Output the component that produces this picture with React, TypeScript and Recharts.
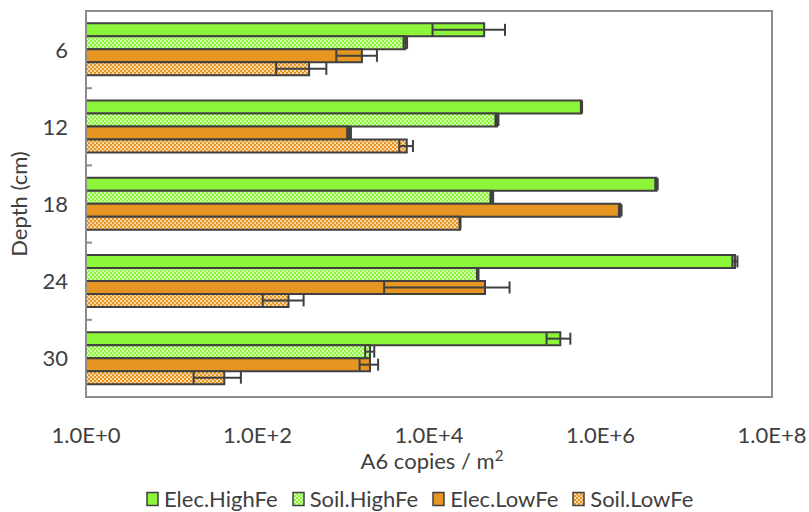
import React from 'react';
import { BarChart, Bar, XAxis, YAxis, ErrorBar, ReferenceArea } from 'recharts';

// depth categories (cm) and gene copy numbers per series
const depths = ['6', '12', '18', '24', '30'];
const elecHigh = [4.4e4, 6.0e5, 4.5e6, 3.7e7, 3.4e5];
const elecHighErr = [3.3e4, 1.0e4, 1.5e5, 2.5e6, 1.05e5];
const soilHigh = [5.3e3, 6.2e4, 5.4e4, 3.7e4, 2.05e3];
const soilHighErr = [250, 2500, 2000, 800, 250];
const elecLow = [1.65e3, 1.17e3, 1.7e6, 4.5e4, 2.05e3];
const elecLowErr = [820, 60, 6.0e4, 4.2e4, 500];
const soilLow = [400, 5.5e3, 2.3e4, 230, 41];
const soilLowErr = [235, 1000, 300, 115, 23];
const xTicks = [1, 1e2, 1e4, 1e6, 1e8];

const rows = depths.map((depth, i) => ({
  depth,
  elecHigh: elecHigh[i],
  elecHighErr: elecHighErr[i],
  soilHigh: soilHigh[i],
  soilHighErr: soilHighErr[i],
  elecLow: elecLow[i],
  elecLowErr: elecLowErr[i],
  soilLow: soilLow[i],
  soilLowErr: soilLowErr[i],
}));

const FONT = 'Lato, "Open Sans", sans-serif';
const TEXT = '#404040';
const FRAME = '#8c8c8c';
const GREEN = '#8cf53a';
const ORANGE = '#e69522';

const series = [
  { key: 'elecHigh', name: 'Elec.HighFe', fill: GREEN },
  { key: 'soilHigh', name: 'Soil.HighFe', fill: 'url(#checkGreen)' },
  { key: 'elecLow', name: 'Elec.LowFe', fill: ORANGE },
  { key: 'soilLow', name: 'Soil.LowFe', fill: 'url(#checkOrange)' },
];

// small checkerboard fills for the soil series
const Patterns = () => (
  <svg width={0} height={0} style={{ position: 'absolute' }}>
    <defs>
      <pattern id="checkGreen" width={4} height={4} patternUnits="userSpaceOnUse">
        <rect width={4} height={4} fill={GREEN} />
        <rect x={0.3} y={0.3} width={1.6} height={1.6} fill="#ffffff" />
        <rect x={2.3} y={2.3} width={1.6} height={1.6} fill="#ffffff" />
      </pattern>
      <pattern id="checkOrange" width={4} height={4} patternUnits="userSpaceOnUse">
        <rect width={4} height={4} fill={ORANGE} />
        <rect x={0.3} y={0.3} width={1.6} height={1.6} fill="#ffffff" />
        <rect x={2.3} y={2.3} width={1.6} height={1.6} fill="#ffffff" />
      </pattern>
    </defs>
  </svg>
);

// depth label plus a small divider mark at the lower edge of each band
const DepthTick = (props: any) => {
  const { x, y, payload } = props;
  const half = payload && payload.offset ? payload.offset : 0;
  const axisX = x + 18;
  return (
    <g>
      <text x={x} y={y} dy="0.36em" textAnchor="end" fill={TEXT} fontSize={22} fontFamily={FONT}>
        {payload.value}
      </text>
      {half > 0 && (
        <line x1={axisX} x2={axisX + 6} y1={y + half} y2={y + half} stroke={FRAME} strokeWidth={2} />
      )}
    </g>
  );
};

const XTitle = (props: any) => {
  const vb = props.viewBox || {};
  const cx = vb.x + vb.width / 2 + 3;
  return (
    <text x={cx} y={vb.y + 72} textAnchor="middle" fill={TEXT} fontSize={22} fontFamily={FONT}>
      <tspan>A6 copies / m</tspan>
      <tspan dy={-8} fontSize={15}>2</tspan>
    </text>
  );
};

const YTitle = (props: any) => {
  const vb = props.viewBox || {};
  const cx = 27;
  const cy = vb.y + vb.height / 2;
  return (
    <text
      x={cx}
      y={cy}
      transform={`rotate(-90, ${cx}, ${cy})`}
      textAnchor="middle"
      fill={TEXT}
      fontSize={22}
      fontFamily={FONT}
    >
      Depth (cm)
    </text>
  );
};

const Legend = () => (
  <div
    style={{
      position: 'absolute',
      left: 146,
      top: 485,
      display: 'flex',
      fontFamily: FONT,
      fontSize: 22,
      color: TEXT,
      whiteSpace: 'nowrap',
    }}
  >
    {series.map((s) => (
      <div key={s.key} style={{ display: 'flex', alignItems: 'center', marginRight: 14 }}>
        <svg width={13} height={16} style={{ marginRight: 5 }}>
          <rect x={1} y={1.5} width={11} height={13} fill={s.fill} stroke={TEXT} strokeWidth={1.5} />
        </svg>
        <span>{s.name}</span>
      </div>
    ))}
  </div>
);

export default function App() {
  return (
    <div style={{ position: 'absolute', left: 0, top: 0, width: 809, height: 512, background: '#fff' }}>
      <Patterns />
      <BarChart
        layout="vertical"
        width={809}
        height={512}
        data={rows}
        margin={{ top: 11, right: 37, bottom: 0, left: 0 }}
        barCategoryGap="16%"
        barGap={0}
      >
        <XAxis
          type="number"
          scale="log"
          domain={[1, 1e8]}
          ticks={xTicks}
          allowDataOverflow
          height={115}
          tickSize={0}
          tickMargin={30}
          axisLine={false}
          tickLine={false}
          tickFormatter={(v: number) => `1.0E+${Math.round(Math.log10(v))}`}
          tick={{ fill: TEXT, fontSize: 22, fontFamily: FONT }}
          label={<XTitle />}
        />
        <YAxis
          type="category"
          dataKey="depth"
          width={86}
          tickSize={0}
          tickMargin={18}
          tickLine={false}
          axisLine={{ stroke: FRAME, strokeWidth: 2 }}
          tick={<DepthTick />}
          label={<YTitle />}
        />
        <ReferenceArea x1={1} x2={1e8} fill="none" stroke={FRAME} strokeWidth={2} ifOverflow="visible" />
        {series.map((s) => (
          <Bar
            key={s.key}
            dataKey={s.key}
            name={s.name}
            fill={s.fill}
            stroke={TEXT}
            strokeWidth={2}
            isAnimationActive={false}
          >
            <ErrorBar
              dataKey={`${s.key}Err`}
              direction="x"
              width={6}
              stroke={TEXT}
              strokeWidth={2}
              isAnimationActive={false}
            />
          </Bar>
        ))}
      </BarChart>
      <Legend />
    </div>
  );
}
